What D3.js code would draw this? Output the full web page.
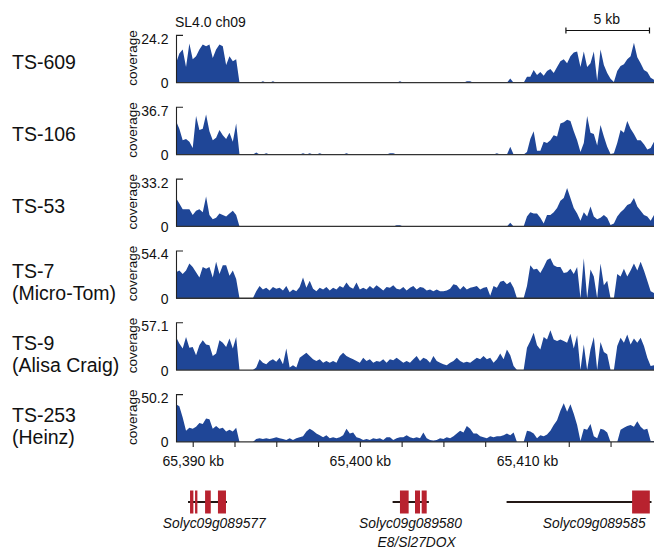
<html>
<head>
<style>
  body { margin: 0; background: #fff; }
  text { font-family: "Liberation Sans", Arial, Helvetica, sans-serif; fill: #111; }
</style>
<script src="https://d3js.org/d3.v7.min.js"></script>
</head>
<body>
<svg width="654" height="548"></svg>
<script>
// ---- data ----
const samples = ["TS-609", "TS-106", "TS-53", "TS-7", "TS-9", "TS-253"];
const subLabels = ["", "", "", "(Micro-Tom)", "(Alisa Craig)", "(Heinz)"];
const yMax = [24.2, 36.7, 33.2, 54.4, 57.1, 50.2];

// coverage in 0.2 kb bins starting at 65,389.0 kb
const binStart = 65389.0, binSize = 0.2;

const cov609 = [10,15,17,8,20,12,13.5,17,19.5,18.7,
  19.5,12.6,17,19.5,18.7,9,13.5,11,12,0,
  0,0,0,0,0,0,0.7,0,0,0.7,
  0,0,0,0,0,0,0,0,0,0,
  0,0,0,0,0,0,0,0,0,0,
  0,0,0,0,0,0,0,0,0,0,
  0,0,0,0,0,0,0,0.7,0,0,
  0,0,0,0,0,0,0,0,0,0,
  0,0,0,0,0,0,0,0.7,0.7,0,
  0,0,0,0,0,0,0,0,0,0,
  2.2,0,0,0,0,
  3,3,6.5,4,5.5,3.5,6,7,5,8,
  11,12,10,13.5,15.5,16,8,16,8,10,
  16,1,17,9,5,2,0.3,6,8.5,9.5,
  12,13.5,20.5,13,10,6.5,5.5,2.5,1.5];

const cov106 = [26,20,11,12,10,5,30,19,20,31,
  18,11,13,19,15,12,17,10,24,0,
  0,0,0,0,1.5,0,0,1,0,0,
  0,0,0,0,0,0,0,0,1,0,
  1,0,0,1,0,0,0,0,0,0,
  0,1,0,0,0,0,0,0,0,0,
  0,0,0,0,1,1,0,0,0,0,
  0,0,0,0,0,0,0,0,0,0,
  0,0,0,0,0,0,0,0,0,0,
  0,0,0,0,0,0,1,0,0,0,
  6,0,0,0,0,
  2,12,18,3,3,10,9,11,15,14,
  24,25,27,26,18,11,2,9,30,17,
  16,7,23,14,6,0.5,1,9,19,17,
  26,20,16,11,11,8,4,5,10];

const cov53 = [20,16,12,12,12,8,11,12,10,21,
  8,5,6,9,8,7,9,11,8,0,
  0,0,0,0,0,0,0,0,0,0,
  0,0,0,0,0,0,0,0,0,0,
  0,0,0,0,0,0,0,0,0,0,
  0,0,0,0,0,0,0,0,0,0,
  0,0,0,0,0,0,0.8,0.8,0,0,
  0,0,0,0,0,0,0,0,0,0,
  0,0,0,0,0,0,0,0,0,0,
  0,0,0,0,0,0,0,0,0,0,
  2.5,0,0,0,0,
  7,10,9,9,6,2,8,8,10,13,
  18,20,27,20,13,9,4,10,7,14,
  7,5,6,8,6,1,2,7,10,12,
  15,16,20,14,11,8,7,4,8];

const cov7 = [30,32,28,32,40,36,30,24,36,34,
  36,24,42,28,38,38,26,32,22,0,
  0,0,0,0,8,14,10,12,9,13,
  11,12,9,14,7,10,8,13,24,12,
  20,11,8,12,10,13,9,12,10,14,
  12,18,13,11,18,10,12,10,14,11,
  15,12,9,13,12,15,11,10,13,9,
  12,14,10,13,12,9,10,8,10,8,
  8,9,11,16,15,10,14,10,12,13,
  14,10,12,13,3,14,12,19,20,16,
  19,12,0,0,0,
  14,38,33,34,29,36,44,46,38,36,
  36,29,30,34,28,36,0,46,0,33,
  25,0,40,15,20,0,0,28,25,34,
  25,32,40,32,42,32,20,8,6];

const cov9 = [40,32,26,40,27,28,18,30,36,31,
  30,17,20,36,33,28,38,26,40,0,
  0,0,0,0,3,13,9,7,11,13,
  10,15,7,26,3,6,3,15,18,21,
  17,13,11,13,9,11,9,11,9,17,
  21,17,15,13,11,9,15,11,13,9,
  11,10,13,9,13,12,15,12,9,11,
  9,13,17,11,15,13,9,17,11,9,
  7,6,9,11,15,11,9,10,9,12,
  15,13,17,13,15,9,13,20,13,25,
  18,5,0,0,0,
  27,35,45,30,25,40,37,48,37,35,
  37,35,33,44,26,42,0,31,0,25,
  40,0,34,22,19,0,0,29,39,33,
  43,31,38,33,39,29,15,5,6];

const cov253 = [40,38,26,12,15,14,16,20,19,25,
  24,14,17,14,15,11,13,11,15,0,
  0,0,0,0,3,4,3,4,3,4,
  5,4,3,2,4,2,4,5,6,11,
  14,12,9,7,5,7,4,5,4,5,
  7,14,9,10,5,4,2,3,2,4,
  3,4,2,5,5,2,4,5,5,7,
  5,4,5,4,10,4,2,1.5,2,4,
  3,5,4,6,9,12,10,17,14,9,
  9,6,5,4,6,5,6,6,7,9,
  7,10,0,0,0,
  12,11,9,4,7,6,8,12,18,23,
  33,41,32,40,30,18,1,14,13,19,
  6,4,14,13,10,0,0,0,13,15,
  17,18,16,22,16,13,14,1,1];

const coverage = [cov609, cov106, cov53, cov7, cov9, cov253];

const xTicks = [65390, 65392.5, 65395, 65397.5, 65400, 65402.5, 65405, 65407.5, 65410, 65412.5, 65415];
const xTickLabels = {65390: "65,390 kb", 65400: "65,400 kb", 65410: "65,410 kb"};
const scaleBar = [65412.33, 65417.33];

// gene models (kb)
const geneNames = ["Solyc09g089577", "Solyc09g089580", "Solyc09g089585"];
const geneAlias = ["", "E8/Sl27DOX", ""];
const geneSpans = [[65389.72, 65392.05], [65401.96, 65404.13], [65408.78, 65417.45]];
const geneExons = [
  [[65389.84, 65390.04], [65390.14, 65390.28], [65390.74, 65391.08], [65391.51, 65391.99]],
  [[65402.40, 65402.92], [65403.30, 65403.60], [65403.70, 65404.00]],
  [[65416.29, 65417.35]]
];
const geneLabelAt = [65391.29, 65403.03, 65414.02];
const aliasLabelAt = [null, 65403.40, null];

// ---- drawing ----
const svg = d3.select("svg");
const blue = "#1f4697", red = "#b8222f";

const x = d3.scaleLinear().domain([65389.0, 65417.6]).range([176, 654]);

const panelBase0 = 82.7, panelStep = 71.85, panelH = 47.3;

samples.forEach(function(name, k) {
  const base = panelBase0 + k * panelStep;
  const y = d3.scaleLinear().domain([0, yMax[k]]).range([base, base - panelH]);
  const g = svg.append("g");

  const area = d3.area()
    .x(function(d, i) { return x(binStart + i * binSize); })
    .y0(y(0))
    .y1(function(d) { return y(d); });

  g.append("path")
    .datum(coverage[k])
    .attr("d", area)
    .attr("fill", blue);

  // baseline
  g.append("line")
    .attr("x1", x.range()[0]).attr("x2", x.range()[1])
    .attr("y1", y(0)).attr("y2", y(0))
    .attr("stroke", "#333").attr("stroke-width", 1.3);

  // y bracket
  const x0 = x.range()[0] + 0.5;
  g.append("path")
    .attr("d", "M" + (x0 + 6.5) + "," + y(yMax[k]) + "H" + x0 + "V" + y(0))
    .attr("fill", "none").attr("stroke", "#222").attr("stroke-width", 1.1);

  g.append("text")
    .attr("x", 168.5).attr("y", y(yMax[k]) + 8.5)
    .attr("text-anchor", "end").attr("font-size", 14)
    .text(yMax[k]);
  g.append("text")
    .attr("x", 168.5).attr("y", y(0) + 5.5)
    .attr("text-anchor", "end").attr("font-size", 14)
    .text("0");

  const mid = base - panelH / 2;
  g.append("text")
    .attr("transform", "translate(137," + (mid - 1) + ") rotate(-90)")
    .attr("text-anchor", "middle").attr("font-size", 13.5)
    .text("coverage");

  if (subLabels[k]) {
    g.append("text").attr("x", 12).attr("y", mid + 3.5).attr("font-size", 19.5).text(name);
    g.append("text").attr("x", 12).attr("y", mid + 25.5).attr("font-size", 19.5).text(subLabels[k]);
  } else {
    g.append("text").attr("x", 12).attr("y", mid + 10).attr("font-size", 19.5).text(name);
  }
});

// x axis under the last panel
const lastBase = panelBase0 + (samples.length - 1) * panelStep;
const xAxis = svg.append("g")
  .attr("transform", "translate(0," + lastBase + ")")
  .call(d3.axisBottom(x).tickValues(xTicks).tickSize(5).tickSizeOuter(0)
    .tickFormat(function(d) { return xTickLabels[d] || ""; }));
xAxis.select(".domain").remove();
xAxis.selectAll(".tick line").attr("stroke", "#222").attr("stroke-width", 1.1);
xAxis.selectAll(".tick text")
  .attr("font-family", "Liberation Sans, Arial, sans-serif")
  .attr("font-size", 14).attr("fill", "#111").attr("dy", 0).attr("y", 24);

// chromosome label and scale bar
svg.append("text").attr("x", 175).attr("y", 26.5).attr("font-size", 14).text("SL4.0 ch09");

const sb = svg.append("g");
sb.append("path")
  .attr("d", "M" + x(scaleBar[0]) + ",27.5V33.5M" + x(scaleBar[0]) + ",30.5H" + x(scaleBar[1]) +
             "M" + x(scaleBar[1]) + ",27.5V33.5")
  .attr("fill", "none").attr("stroke", "#111").attr("stroke-width", 1.2);
sb.append("text")
  .attr("x", (x(scaleBar[0]) + x(scaleBar[1])) / 2 - 1).attr("y", 24)
  .attr("text-anchor", "middle").attr("font-size", 14).text("5 kb");

// gene models
const geneY = 502, exonH = 23;
const genes = svg.append("g");
geneNames.forEach(function(name, j) {
  genes.append("line")
    .attr("x1", x(geneSpans[j][0])).attr("x2", x(geneSpans[j][1]))
    .attr("y1", geneY).attr("y2", geneY)
    .attr("stroke", "#231815").attr("stroke-width", 1.8);
  genes.selectAll(null)
    .data(geneExons[j])
    .enter().append("rect")
    .attr("x", function(d) { return x(d[0]); })
    .attr("width", function(d) { return x(d[1]) - x(d[0]); })
    .attr("y", geneY - exonH / 2)
    .attr("height", exonH)
    .attr("fill", red);
  genes.append("text")
    .attr("x", x(geneLabelAt[j])).attr("y", 527.5)
    .attr("text-anchor", "middle").attr("font-size", 13.8).attr("font-style", "italic")
    .text(name);
  if (geneAlias[j]) {
    genes.append("text")
      .attr("x", x(aliasLabelAt[j])).attr("y", 546.5)
      .attr("text-anchor", "middle").attr("font-size", 13.8).attr("font-style", "italic")
      .text(geneAlias[j]);
  }
});
</script>
</body>
</html>
